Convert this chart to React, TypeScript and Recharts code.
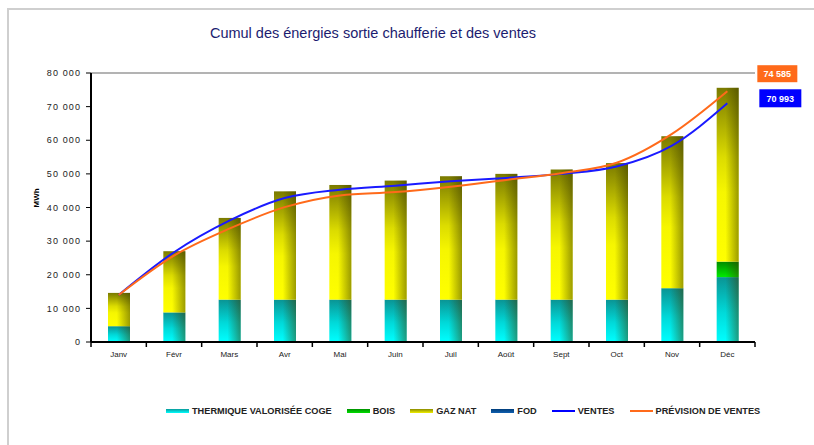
// Cumul des énergies sortie chaufferie et des ventes : barres empilées + courbes cumulées

import React from 'react'
import { ComposedChart, Bar, Line, XAxis, YAxis, ReferenceLine } from 'recharts'

const months = ['Janv', 'Févr', 'Mars', 'Avr', 'Mai', 'Juin', 'Juil', 'Août', 'Sept', 'Oct', 'Nov', 'Déc']
const thermique = [4700, 8800, 12600, 12600, 12600, 12600, 12600, 12600, 12600, 12600, 16000, 19300]
const bois = [0, 0, 0, 0, 0, 0, 0, 0, 0, 0, 0, 4600]
const gazNat = [9900, 18200, 24300, 32200, 34100, 35400, 36700, 37400, 38700, 40600, 45200, 51700]
const fod = [0, 0, 0, 0, 0, 0, 0, 0, 0, 0, 0, 0]
const ventes = [14000, 26700, 36100, 42800, 45300, 46500, 47800, 48800, 50000, 52200, 58400, 70993]
const prevision = [14000, 25700, 33700, 40100, 43600, 44600, 46200, 48200, 50200, 53300, 61900, 74585]
const yTicks = [0, 10000, 20000, 30000, 40000, 50000, 60000, 70000, 80000]

const data = months.map((m, i) => ({
  month: m,
  thermique: thermique[i],
  bois: bois[i],
  gazNat: gazNat[i],
  fod: fod[i],
  ventes: ventes[i],
  prevision: prevision[i],
}))

const legendItems = [
  { label: 'THERMIQUE VALORISÉE COGE', fill: 'linear-gradient(#0a9a9a, #00ffff)', h: 4 },
  { label: 'BOIS', fill: 'linear-gradient(#009000, #00e000)', h: 4 },
  { label: 'GAZ NAT', fill: 'linear-gradient(#8a8a00, #f0f000)', h: 4 },
  { label: 'FOD', fill: 'linear-gradient(#003d7a, #1060b0)', h: 4 },
  { label: 'VENTES', fill: '#0000ff', h: 2 },
  { label: 'PRÉVISION DE VENTES', fill: '#ff6a1a', h: 2 },
]

const FONT = '"Liberation Sans", Arial, sans-serif'
const HALF_BAND = 664 / 12 / 2

const fmt = (v: number) => String(Math.round(v)).replace(/\B(?=(\d{3})+(?!\d))/g, ' ')

function ShadedBar(props: any) {
  const { x, y, width, height, base } = props
  if (!height || height <= 0) return <g />
  return (
    <g>
      <rect x={x} y={y} width={width} height={height} fill={`url(#${base}V)`} />
      <rect x={x} y={y} width={width} height={height} fill="url(#shadeH)" />
    </g>
  )
}

function MonthTick(props: any) {
  const { x, y, payload, index } = props
  return (
    <g>
      <line x1={x - HALF_BAND} x2={x - HALF_BAND} y1={y - 8} y2={y - 3} stroke="#000" strokeWidth={1.5} />
      {index === months.length - 1 && (
        <line x1={x + HALF_BAND} x2={x + HALF_BAND} y1={y - 8} y2={y - 3} stroke="#000" strokeWidth={1.5} />
      )}
      <text x={x} y={y + 7} textAnchor="middle" fontSize={8} fill="#222" fontFamily={FONT}>
        {payload.value}
      </text>
    </g>
  )
}

const endLabel = (color: string, dx: number, dy: number, w: number, h: number) => (p: any) => {
  if (p.index !== months.length - 1) return <g />
  return (
    <g>
      <rect x={p.x + dx} y={p.y + dy} width={w} height={h} fill={color} />
      <text x={p.x + dx + w / 2} y={p.y + dy + h / 2 + 3.5} textAnchor="middle" fill="#fff"
        fontSize={9} fontWeight="bold" fontFamily={FONT}>
        {fmt(p.value)}
      </text>
    </g>
  )
}

export default function App() {
  return (
    <div style={{ position: 'fixed', left: 0, top: 0, width: 814, height: 445, background: '#fff', overflow: 'hidden', fontFamily: FONT }}>
      <div style={{ position: 'absolute', left: 7, top: 8, width: 830, height: 460, borderLeft: '2px solid #cfcfcf', borderTop: '2px solid #cfcfcf' }} />
      <div style={{ position: 'absolute', left: 0, width: 746, top: 25, textAlign: 'center', fontSize: 14.5, color: '#1c1c70' }}>
        Cumul des énergies sortie chaufferie et des ventes
      </div>

      <ComposedChart width={814} height={445} data={data} barSize={22}
        margin={{ top: 73, right: 59, left: 32, bottom: 83 }}
        style={{ position: 'absolute', left: 0, top: 0 }}>
        <defs>
          <linearGradient id="cyanV" x1="0" y1="0" x2="0" y2="1">
            <stop offset="0%" stopColor="#0a9494" />
            <stop offset="55%" stopColor="#00dada" />
            <stop offset="100%" stopColor="#00ffff" />
          </linearGradient>
          <linearGradient id="greenV" x1="0" y1="0" x2="0" y2="1">
            <stop offset="0%" stopColor="#008a00" />
            <stop offset="100%" stopColor="#00ec00" />
          </linearGradient>
          <linearGradient id="yellowV" x1="0" y1="0" x2="0" y2="1">
            <stop offset="0%" stopColor="#7a7a00" />
            <stop offset="40%" stopColor="#dcdc00" />
            <stop offset="60%" stopColor="#f6f600" />
            <stop offset="100%" stopColor="#ffff00" />
          </linearGradient>
          <linearGradient id="blueV" x1="0" y1="0" x2="0" y2="1">
            <stop offset="0%" stopColor="#003d7a" />
            <stop offset="100%" stopColor="#1060b0" />
          </linearGradient>
          <linearGradient id="shadeH" x1="0" y1="0" x2="1" y2="0">
            <stop offset="0%" stopColor="#3a3a00" stopOpacity={0} />
            <stop offset="40%" stopColor="#3a3a00" stopOpacity={0} />
            <stop offset="100%" stopColor="#3a3a00" stopOpacity={0.5} />
          </linearGradient>
        </defs>

        <XAxis dataKey="month" tick={<MonthTick />} tickLine={false} height={20}
          axisLine={{ stroke: '#000', strokeWidth: 2 }} />
        <YAxis domain={[0, 80000]} ticks={yTicks} tickFormatter={fmt} width={59}
          tick={{ fontSize: 9, fill: '#222', fontFamily: FONT, letterSpacing: 1.1 }}
          tickLine={{ stroke: '#000' }} tickSize={5} tickMargin={5}
          axisLine={{ stroke: '#000', strokeWidth: 2 }}
          label={{ value: 'MWh', angle: -90, position: 'insideLeft', offset: 4, fontSize: 8, fontWeight: 'bold', fill: '#000', fontFamily: FONT }} />
        <YAxis yAxisId="r" orientation="right" domain={[0, 80000]} width={0} tick={false} tickLine={false}
          axisLine={{ stroke: '#9a9a9a', strokeWidth: 1.5 }} />
        <ReferenceLine y={80000} stroke="#9a9a9a" strokeWidth={1.5} />

        <Bar dataKey="thermique" stackId="e" shape={<ShadedBar base="cyan" />} isAnimationActive={false} />
        <Bar dataKey="bois" stackId="e" shape={<ShadedBar base="green" />} isAnimationActive={false} />
        <Bar dataKey="gazNat" stackId="e" shape={<ShadedBar base="yellow" />} isAnimationActive={false} />
        <Bar dataKey="fod" stackId="e" shape={<ShadedBar base="blue" />} isAnimationActive={false} />

        <Line dataKey="ventes" type="monotone" stroke="#1a1aff" strokeWidth={2} dot={false}
          isAnimationActive={false} label={endLabel('#0000ff', 32, -14, 42, 18)} />
        <Line dataKey="prevision" type="monotone" stroke="#ff6a1a" strokeWidth={2} dot={false}
          isAnimationActive={false} label={endLabel('#ff6a1a', 30, -26, 40, 17)} />
      </ComposedChart>

      <div style={{ position: 'absolute', left: 166, top: 406, display: 'flex', alignItems: 'center', gap: 15, whiteSpace: 'nowrap' }}>
        {legendItems.map(it => (
          <div key={it.label} style={{ display: 'flex', alignItems: 'center', gap: 3 }}>
            <div style={{ width: 23, height: it.h, background: it.fill }} />
            <span style={{ fontSize: 9.2, fontWeight: 'bold', color: '#222' }}>{it.label}</span>
          </div>
        ))}
      </div>
    </div>
  )
}
